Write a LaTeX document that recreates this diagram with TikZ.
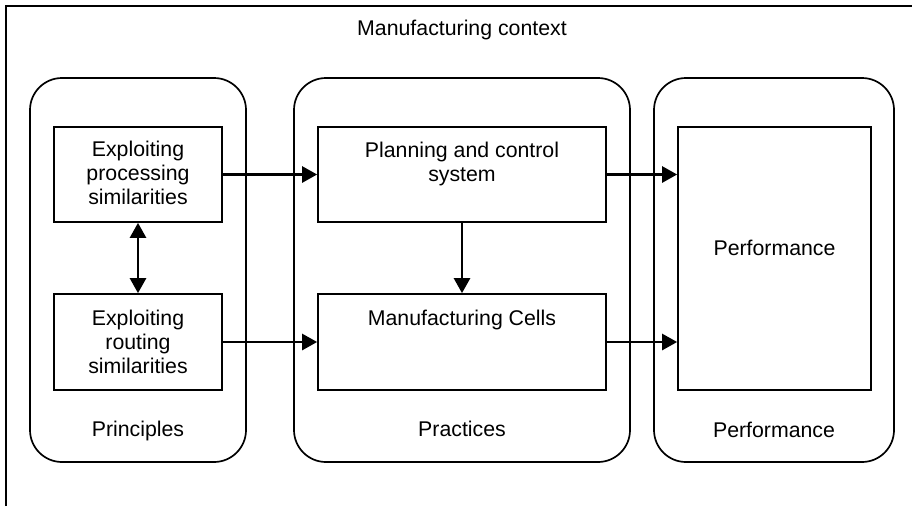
\documentclass[tikz,border=0pt]{standalone}
\usepackage{fontspec}
\setmainfont{Liberation Sans}
\usetikzlibrary{arrows.meta}
\begin{document}
\begin{tikzpicture}[x=1pt,y=-1pt,
  every node/.style={font=\fontsize{21.3}{23.7}\selectfont, inner sep=0pt},
  group/.style={draw, line width=1.7pt, rounded corners=32pt},
  stepbox/.style={draw, line width=1.7pt},
  txt/.style={anchor=base, align=center},
  conn/.style={line width=2.6pt, -{Triangle[length=15pt,width=16pt]}},
  dconn/.style={line width=2.6pt, {Triangle[length=15pt,width=16pt]}-{Triangle[length=15pt,width=16pt]}},
]
\useasboundingbox (0,0) rectangle (912,506);
% outer frame (extends beyond the picture)
\draw[line width=1.7pt] (6,506) -- (6,6) -- (912,6);
\node[txt] (ctx) at (462,35) {Manufacturing context};
% groups
\node[group, minimum width=216pt, minimum height=384pt] (gPrin) at (138,270) {};
\node[group, minimum width=336pt, minimum height=384pt] (gPrac) at (462,270) {};
\node[group, minimum width=240pt, minimum height=384pt] (gPerf) at (774,270) {};
\node[txt] (lPrin) at (138,436) {Principles};
\node[txt] (lPrac) at (462,436) {Practices};
\node[txt] (lPerf) at (774,437) {Performance};
% boxes
\node[stepbox, minimum width=168pt, minimum height=95pt] (b1) at (138,174.5) {};
\node[stepbox, minimum width=168pt, minimum height=96pt] (b2) at (138,342) {};
\node[stepbox, minimum width=288pt, minimum height=95pt] (m1) at (462,174.5) {};
\node[stepbox, minimum width=288pt, minimum height=96pt] (m2) at (462,342) {};
\node[stepbox, minimum width=193pt, minimum height=263pt] (perf) at (774.5,258.5) {};
% texts (multi-line nodes: base = last line)
\node[txt] (t1) at (138,204) {Exploiting\\processing\\similarities};
\node[txt] (t2) at (138,373) {Exploiting\\routing\\similarities};
\node[txt] (t3) at (462,181) {Planning and control\\system};
\node[txt] (t4) at (462,325) {Manufacturing Cells};
\node[txt] (t5) at (774.5,255) {Performance};
% connectors
\draw[conn] (b1.east) -- (m1.west);
\draw[conn] (b2.east) -- (m2.west);
\draw[conn] (m1.east) -- (m1.east -| perf.west);
\draw[conn] (m2.east) -- (m2.east -| perf.west);
\draw[dconn] (b1.south) -- (b2.north);
\draw[conn] (m1.south) -- (m2.north);
\end{tikzpicture}
\end{document}
